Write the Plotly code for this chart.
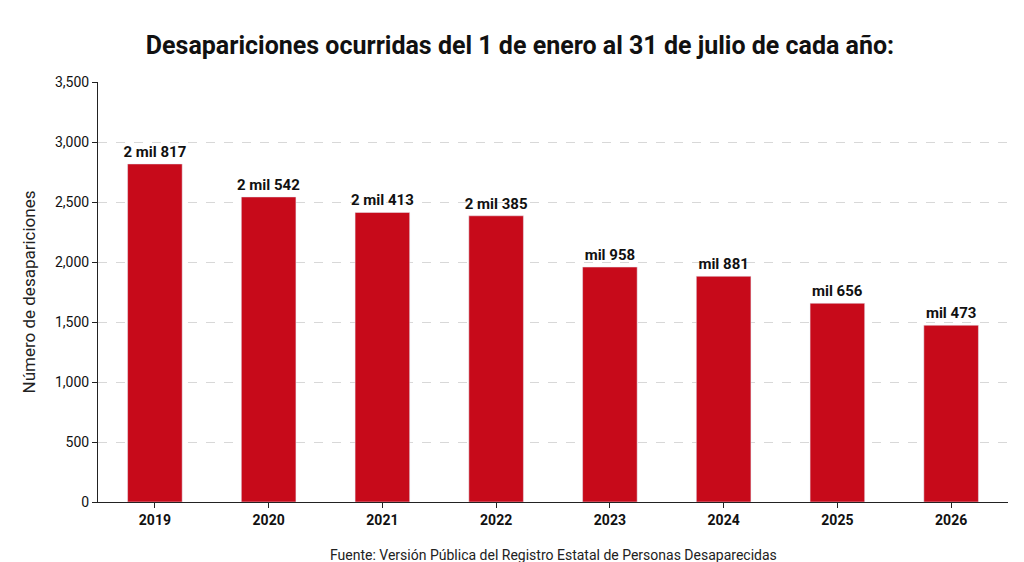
import plotly.graph_objects as go

years = ["2019", "2020", "2021", "2022", "2023", "2024", "2025", "2026"]
values = [2817, 2542, 2413, 2385, 1958, 1881, 1656, 1473]
labels = ["2 mil 817", "2 mil 542", "2 mil 413", "2 mil 385", "mil 958", "mil 881", "mil 656", "mil 473"]
yticks = [0, 500, 1000, 1500, 2000, 2500, 3000, 3500]

fig = go.Figure()
fig.add_trace(go.Bar(x=years, y=values, text=labels, texttemplate="<b>%{text}</b>",
                     textposition="outside", constraintext="none",
                     marker_color="#c70a1a", width=0.48, cliponaxis=False,
                     textfont=dict(family="Roboto", size=15, color="#111")))

fig.update_layout(
    width=1024, height=562, plot_bgcolor="white", paper_bgcolor="white",
    margin=dict(l=90, r=24, t=74, b=68),
    title=dict(text="<b>Desapariciones ocurridas del 1 de enero al 31 de julio de cada año:</b>",
               x=0.5, xanchor="center", y=0.95,
               font=dict(family="Roboto", size=25, color="#111")),
    showlegend=False,
    uniformtext=dict(minsize=15),
)
fig.update_xaxes(showline=True, linecolor="#222", ticks="outside", ticklen=5, tickcolor="#222",
                 tickvals=years, ticktext=["<b>%s</b>" % y for y in years],
                 tickfont=dict(family="Roboto", size=14, color="#111"))
fig.update_yaxes(range=[0, 3500], tickvals=yticks, tickformat=",", showline=True, linecolor="#222",
                 ticks="outside", ticklen=5, tickcolor="#222",
                 gridcolor="#d8d8d8", griddash="dash",
                 tickfont=dict(family="Roboto", size=14, color="#111"),
                 title=dict(text="Número de desapariciones", font=dict(family="Roboto", size=17, color="#222")))
fig.add_annotation(text="Fuente: Versión Pública del Registro Estatal de Personas Desaparecidas",
                   xref="paper", yref="paper", x=0.5, y=-0.15, showarrow=False,
                   font=dict(family="Roboto", size=14, color="#222"))
fig.write_html("out.html")
